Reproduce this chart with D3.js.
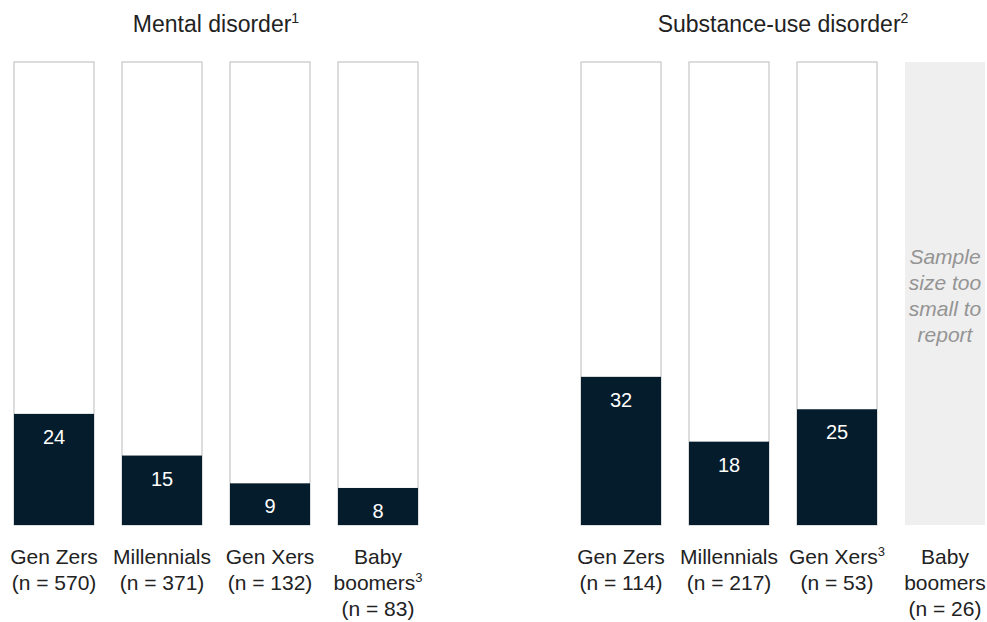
<!DOCTYPE html>
<html>
<head>
<meta charset="utf-8">
<script src="https://cdn.jsdelivr.net/npm/d3@7"></script>
<style>
  body { margin: 0; background: #fff; }
  text { font-family: "Liberation Sans", Arial, sans-serif; }
</style>
</head>
<body>
<script>
var width = 987;
var height = 622;

var categories = ['Gen Zers', 'Millennials', 'Gen Xers', 'Baby boomers'];
var categoryLines = [['Gen Zers'], ['Millennials'], ['Gen Xers'], ['Baby', 'boomers']];

var mentalValues = [24, 15, 9, 8];
var mentalN = [570, 371, 132, 83];
var mentalNotes = [null, null, null, 3];

var substanceValues = [32, 18, 25, null];
var substanceN = [114, 217, 53, 26];
var substanceNotes = [null, null, 3, null];

var panels = [
  { title: 'Mental disorder', note: '1', values: mentalValues, n: mentalN, notes: mentalNotes, x0: 14 },
  { title: 'Substance-use disorder', note: '2', values: substanceValues, n: substanceN, notes: substanceNotes, x0: 581 }
];

var missingText = ['Sample', 'size too', 'small to', 'report'];

var navy = '#051c2c';
var outline = '#c6c6c6';
var textColor = '#222';

var svg = d3.select('body')
  .append('svg')
  .attr('width', width)
  .attr('height', height);

var yScale = d3.scaleLinear()
  .domain([0, 100])
  .range([525, 62]);

panels.forEach(function(p) {
  var xScale = d3.scaleBand()
    .domain(categories)
    .range([p.x0, p.x0 + 404])
    .paddingInner(28 / 108)
    .paddingOuter(0);

  var g = svg.append('g');
  var rows = categories.map(function(c, i) {
    return { cat: c, value: p.values[i], n: p.n[i], note: p.notes[i], lines: categoryLines[i] };
  });

  // title
  var title = g.append('text')
    .attr('x', p.x0 + 202)
    .attr('y', 32)
    .attr('text-anchor', 'middle')
    .attr('font-size', '23px')
    .attr('fill', textColor)
    .text(p.title);
  title.append('tspan')
    .attr('font-size', '14px')
    .attr('dy', -9)
    .text(p.note);

  // outline boxes
  g.selectAll('rect.box')
    .data(rows.filter(function(d) { return d.value !== null; }))
    .enter()
    .append('rect')
    .attr('class', 'box')
    .attr('x', function(d) { return xScale(d.cat); })
    .attr('y', yScale(100))
    .attr('width', xScale.bandwidth())
    .attr('height', yScale(0) - yScale(100))
    .attr('fill', 'white')
    .attr('stroke', outline)
    .attr('stroke-width', 1.2);

  // grey boxes for missing values
  g.selectAll('rect.missing')
    .data(rows.filter(function(d) { return d.value === null; }))
    .enter()
    .append('rect')
    .attr('class', 'missing')
    .attr('x', function(d) { return xScale(d.cat); })
    .attr('y', yScale(100))
    .attr('width', xScale.bandwidth())
    .attr('height', yScale(0) - yScale(100))
    .attr('fill', '#efefef');

  rows.filter(function(d) { return d.value === null; }).forEach(function(d) {
    var t = g.append('text')
      .attr('text-anchor', 'middle')
      .attr('font-size', '21px')
      .attr('font-style', 'italic')
      .attr('fill', '#949494');
    missingText.forEach(function(line, i) {
      t.append('tspan')
        .attr('x', xScale(d.cat) + xScale.bandwidth() / 2)
        .attr('y', 264 + i * 26)
        .text(line);
    });
  });

  // bars
  var bars = rows.filter(function(d) { return d.value !== null; });
  g.selectAll('rect.bar')
    .data(bars)
    .enter()
    .append('rect')
    .attr('class', 'bar')
    .attr('x', function(d) { return xScale(d.cat); })
    .attr('y', function(d) { return yScale(d.value); })
    .attr('width', xScale.bandwidth())
    .attr('height', function(d) { return yScale(0) - yScale(d.value); })
    .attr('fill', navy);

  g.selectAll('text.value')
    .data(bars)
    .enter()
    .append('text')
    .attr('class', 'value')
    .attr('x', function(d) { return xScale(d.cat) + xScale.bandwidth() / 2; })
    .attr('y', function(d) { return yScale(d.value) + 30; })
    .attr('text-anchor', 'middle')
    .attr('font-size', '20px')
    .attr('fill', 'white')
    .text(function(d) { return d.value; });

  // category labels
  rows.forEach(function(d) {
    var cx = xScale(d.cat) + xScale.bandwidth() / 2;
    var t = g.append('text')
      .attr('text-anchor', 'middle')
      .attr('font-size', '21px')
      .attr('fill', textColor);
    var lines = d.lines.concat(['(n = ' + d.n + ')']);
    lines.forEach(function(line, i) {
      var ts = t.append('tspan')
        .attr('x', cx)
        .attr('y', 564 + i * 26)
        .text(line);
      if (d.note && i === d.lines.length - 1) {
        ts.append('tspan')
          .attr('font-size', '13px')
          .attr('dy', -8)
          .text(d.note);
      }
    });
  });
});
</script>
</body>
</html>
